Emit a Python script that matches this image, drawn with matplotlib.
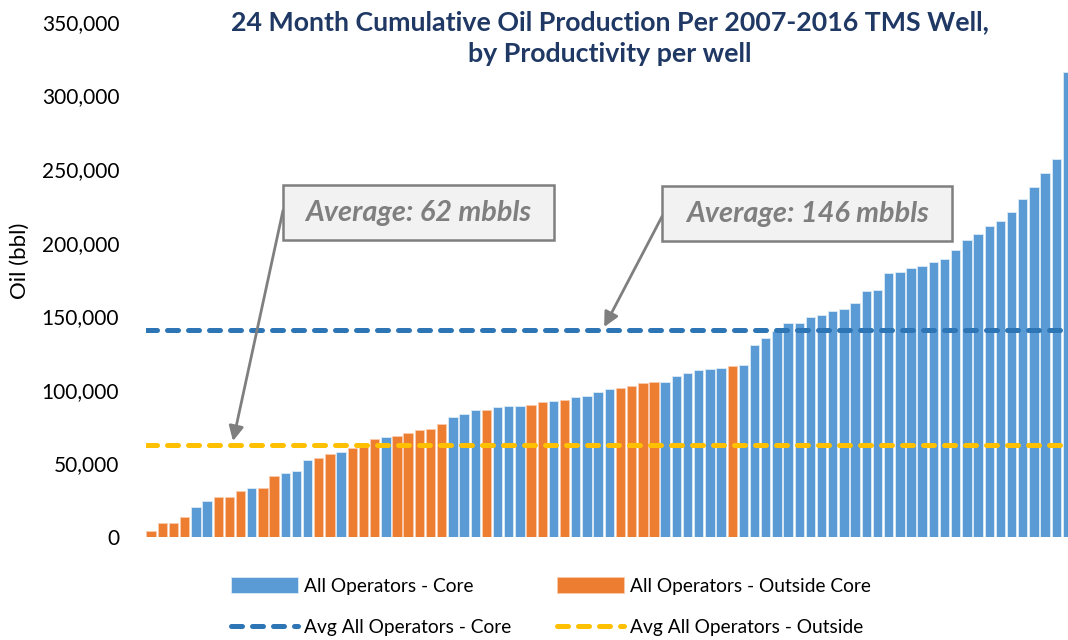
import matplotlib
matplotlib.use('Agg')
from matplotlib import pyplot as plt
from matplotlib.patches import Rectangle

plt.rcParams['font.family'] = ['Lato', 'DejaVu Sans']

# 24 month cumulative oil per well, sorted ascending (bbl)
oil = [4000, 9500, 9500, 13600, 20600, 24500, 27200, 27200, 31000, 33500,
       33500, 41500, 43300, 44900, 52400, 53700, 56500, 58000, 60800, 62400,
       66900, 68000, 68500, 70700, 73000, 73700, 77100, 81600, 83900, 86400,
       86600, 88200, 88900, 89100, 90000, 91800, 92500, 93200, 95200, 95500,
       98400, 100700, 101100, 102700, 104500, 105200, 105200, 109300, 111600, 113800,
       114300, 114700, 115900, 116800, 130600, 135200, 139700, 145400, 145600, 149700,
       151200, 153300, 154900, 158700, 167300, 168000, 179400, 179800, 182500, 184400,
       187100, 188900, 194800, 201600, 205900, 211100, 214800, 220900, 229500, 237900,
       247200, 257100, 316100]
# 'C' = core, 'O' = outside core
area = list('OOOOCCOOOCOOCCCOOCOOOCOOOOOCCCOCCCOOCOCCCCOOOOCCCCCCOC') + ['C'] * 29

avg_core = 141000
avg_outside = 62500

core_blue = '#5B9BD5'
outside_orange = '#ED7D31'
avg_blue = '#2E75B6'
avg_yellow = '#FFC000'
grey = '#7F7F7F'

fig = plt.figure(figsize=(10.68, 6.4), dpi=100)
ax = fig.add_axes([145.6 / 1068, 103 / 640, 922.4 / 1068, 515 / 640])

core_x = [i for i in range(len(oil)) if area[i] == 'C']
out_x = [i for i in range(len(oil)) if area[i] == 'O']
b1 = ax.bar(core_x, [oil[i] for i in core_x], width=0.84, color=core_blue,
            edgecolor='#DDEBF7', linewidth=0.6, zorder=2)
b2 = ax.bar(out_x, [oil[i] for i in out_x], width=0.84, color=outside_orange,
            edgecolor='#F8CBAD', linewidth=0.6, zorder=2)

l1 = ax.axhline(avg_core, color=avg_blue, lw=3.6, ls=(0, (2.2, 2.0)),
                dash_capstyle='round', zorder=3)
l2 = ax.axhline(avg_outside, color=avg_yellow, lw=3.6, ls=(0, (2.2, 2.0)),
                dash_capstyle='round', zorder=3)

ax.set_xlim(-0.5, 82.05)
ax.set_ylim(0, 350000)
ax.set_xticks([])
ax.set_yticks(range(0, 350001, 50000))
ax.set_yticklabels(['{:,}'.format(v) for v in range(0, 350001, 50000)], fontsize=15)
ax.tick_params(axis='y', length=0, pad=19)
for s in ax.spines.values():
    s.set_visible(False)

fig.text(20 / 1068, 1 - 261 / 640, 'Oil (bbl)', rotation=90, ha='center',
         va='center', fontsize=16)
fig.text(610 / 1068, 1 - 38 / 640,
         '24 Month Cumulative Oil Production Per 2007-2016 TMS Well,\nby Productivity per well',
         ha='center', va='center', fontsize=19.3, fontweight='bold',
         color='#1F3864', linespacing=1.35)

# callout boxes with arrows
boxes = [(11.77, 201800, 24.29, 37400, 'Average: 62 mbbls', (11.8, 222000), (7.32, 65200)),
         (45.73, 201200, 25.96, 37300, 'Average: 146 mbbls', (45.73, 218000), (40.54, 142700))]
for x0, y0, w, h, label, tail, tip in boxes:
    ax.annotate('', xy=tip, xytext=tail,
                arrowprops=dict(arrowstyle='-|>', color=grey, lw=2, mutation_scale=22,
                                shrinkA=0, shrinkB=0), zorder=4)
    ax.add_patch(Rectangle((x0, y0), w, h, facecolor='#F2F2F2', edgecolor=grey,
                           lw=1.8, zorder=5))
    ax.text(x0 + w / 2, y0 + h / 2, label, ha='center', va='center', fontsize=20.8,
            fontweight='bold', fontstyle='italic', color=grey, zorder=6)

fig.legend([b1, l1, b2, l2],
           ['All Operators - Core', 'Avg All Operators - Core',
            'All Operators - Outside Core', 'Avg All Operators - Outside'],
           loc='upper left', bbox_to_anchor=(214 / 1068, 1 - 560 / 640), ncol=2,
           frameon=False, fontsize=13.8, handlelength=3.5, handleheight=0.9,
           handletextpad=0.3, columnspacing=2.4, labelspacing=1.25)

fig.savefig('out.png', dpi=100)
